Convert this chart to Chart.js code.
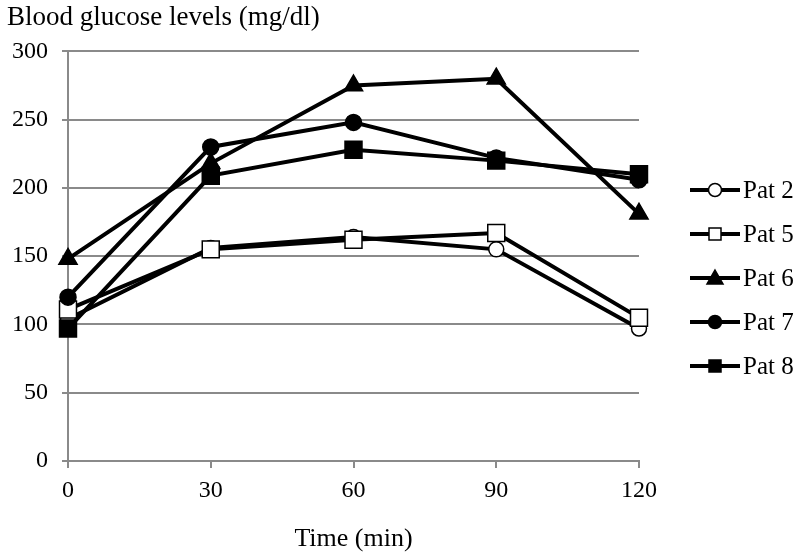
<!DOCTYPE html>
<html>
<head>
<meta charset="utf-8">
<script src="https://cdn.jsdelivr.net/npm/chart.js@4/dist/chart.umd.min.js"></script>
<style>
  html, body { margin: 0; padding: 0; background: #fff; }
  #wrap { width: 798px; height: 558px; position: relative; }
</style>
</head>
<body>
<div id="wrap"><canvas id="glucoseChart" width="798" height="558"></canvas></div>
<script>
const times = ['0', '30', '60', '90', '120'];
const patients = ['Pat 2', 'Pat 5', 'Pat 6', 'Pat 7', 'Pat 8'];
const pat2 = [104, 156, 164, 155, 97];
const pat5 = [111, 155, 162, 167, 105];
const pat6 = [148, 218, 275, 280, 181];
const pat7 = [120, 230, 248, 222, 206];
const pat8 = [97, 209, 228, 220, 210];

const seriesValues = [pat2, pat5, pat6, pat7, pat8];
const markers = [
  { style: 'circle', fill: '#fff', radius: 7.5 },
  { style: 'rect', fill: '#fff', radius: 12 },
  { style: 'triangle', fill: '#000', radius: 10.5 },
  { style: 'circle', fill: '#000', radius: 8 },
  { style: 'rect', fill: '#000', radius: 12 }
];

const serif = 'Liberation Serif';
const gridGray = '#8a8a8a';
Chart.defaults.color = '#000';
Chart.defaults.font.family = serif;

// legend with line + marker, drawn on the canvas
const lineLegend = {
  id: 'lineLegend',
  afterDraw(chart) {
    const ctx = chart.ctx;
    ctx.save();
    chart.data.datasets.forEach((ds, i) => {
      const y = 190 + i * 44;
      ctx.strokeStyle = '#000';
      ctx.lineWidth = 4;
      ctx.beginPath();
      ctx.moveTo(690, y);
      ctx.lineTo(740, y);
      ctx.stroke();
      const m = markers[i];
      ctx.fillStyle = m.fill;
      ctx.lineWidth = 1.5;
      ctx.beginPath();
      if (m.style === 'circle') {
        ctx.arc(715, y, 6.5, 0, Math.PI * 2);
      } else if (m.style === 'rect') {
        ctx.rect(709, y - 6, 12, 12);
      } else {
        ctx.moveTo(715, y - 8);
        ctx.lineTo(723, y + 6);
        ctx.lineTo(707, y + 6);
        ctx.closePath();
      }
      ctx.fill();
      ctx.stroke();
      ctx.fillStyle = '#000';
      ctx.font = '25px ' + serif;
      ctx.textBaseline = 'middle';
      ctx.textAlign = 'left';
      ctx.fillText(ds.label, 743, y + 1);
    });
    ctx.restore();
  }
};

new Chart(document.getElementById('glucoseChart'), {
  type: 'line',
  data: {
    labels: times,
    datasets: seriesValues.map((vals, i) => ({
      label: patients[i],
      data: vals,
      order: seriesValues.length - i,
      borderColor: '#000',
      borderWidth: 4,
      tension: 0,
      pointStyle: markers[i].style,
      pointRadius: markers[i].radius,
      pointBackgroundColor: markers[i].fill,
      pointBorderColor: '#000',
      pointBorderWidth: 1.5
    }))
  },
  options: {
    responsive: false,
    animation: false,
    layout: { padding: { left: 7, right: 159, top: 0, bottom: 0 } },
    plugins: {
      legend: { display: false },
      tooltip: { enabled: false },
      title: {
        display: true,
        text: 'Blood glucose levels (mg/dl)',
        align: 'start',
        font: { size: 27, family: serif, weight: 'normal' },
        padding: { top: 2, bottom: 17 }
      }
    },
    scales: {
      x: {
        offset: false,
        grid: { display: true, drawOnChartArea: false, drawTicks: true, tickLength: 7, color: gridGray, lineWidth: 2 },
        border: { display: true, color: gridGray, width: 2 },
        ticks: { font: { size: 24, family: serif }, padding: 8, maxRotation: 0 },
        title: {
          display: true,
          text: 'Time (min)',
          font: { size: 26, family: serif },
          padding: { top: 0, bottom: 3 }
        },
        afterFit(scale) { scale.height = 97; }
      },
      y: {
        min: 0,
        max: 300,
        ticks: { stepSize: 50, font: { size: 24, family: serif }, padding: 14 },
        grid: { color: gridGray, lineWidth: 2, tickLength: 6 },
        border: { display: true, color: gridGray, width: 2 },
        afterFit(scale) { scale.width = 61; }
      }
    }
  },
  plugins: [lineLegend]
});
</script>
</body>
</html>
